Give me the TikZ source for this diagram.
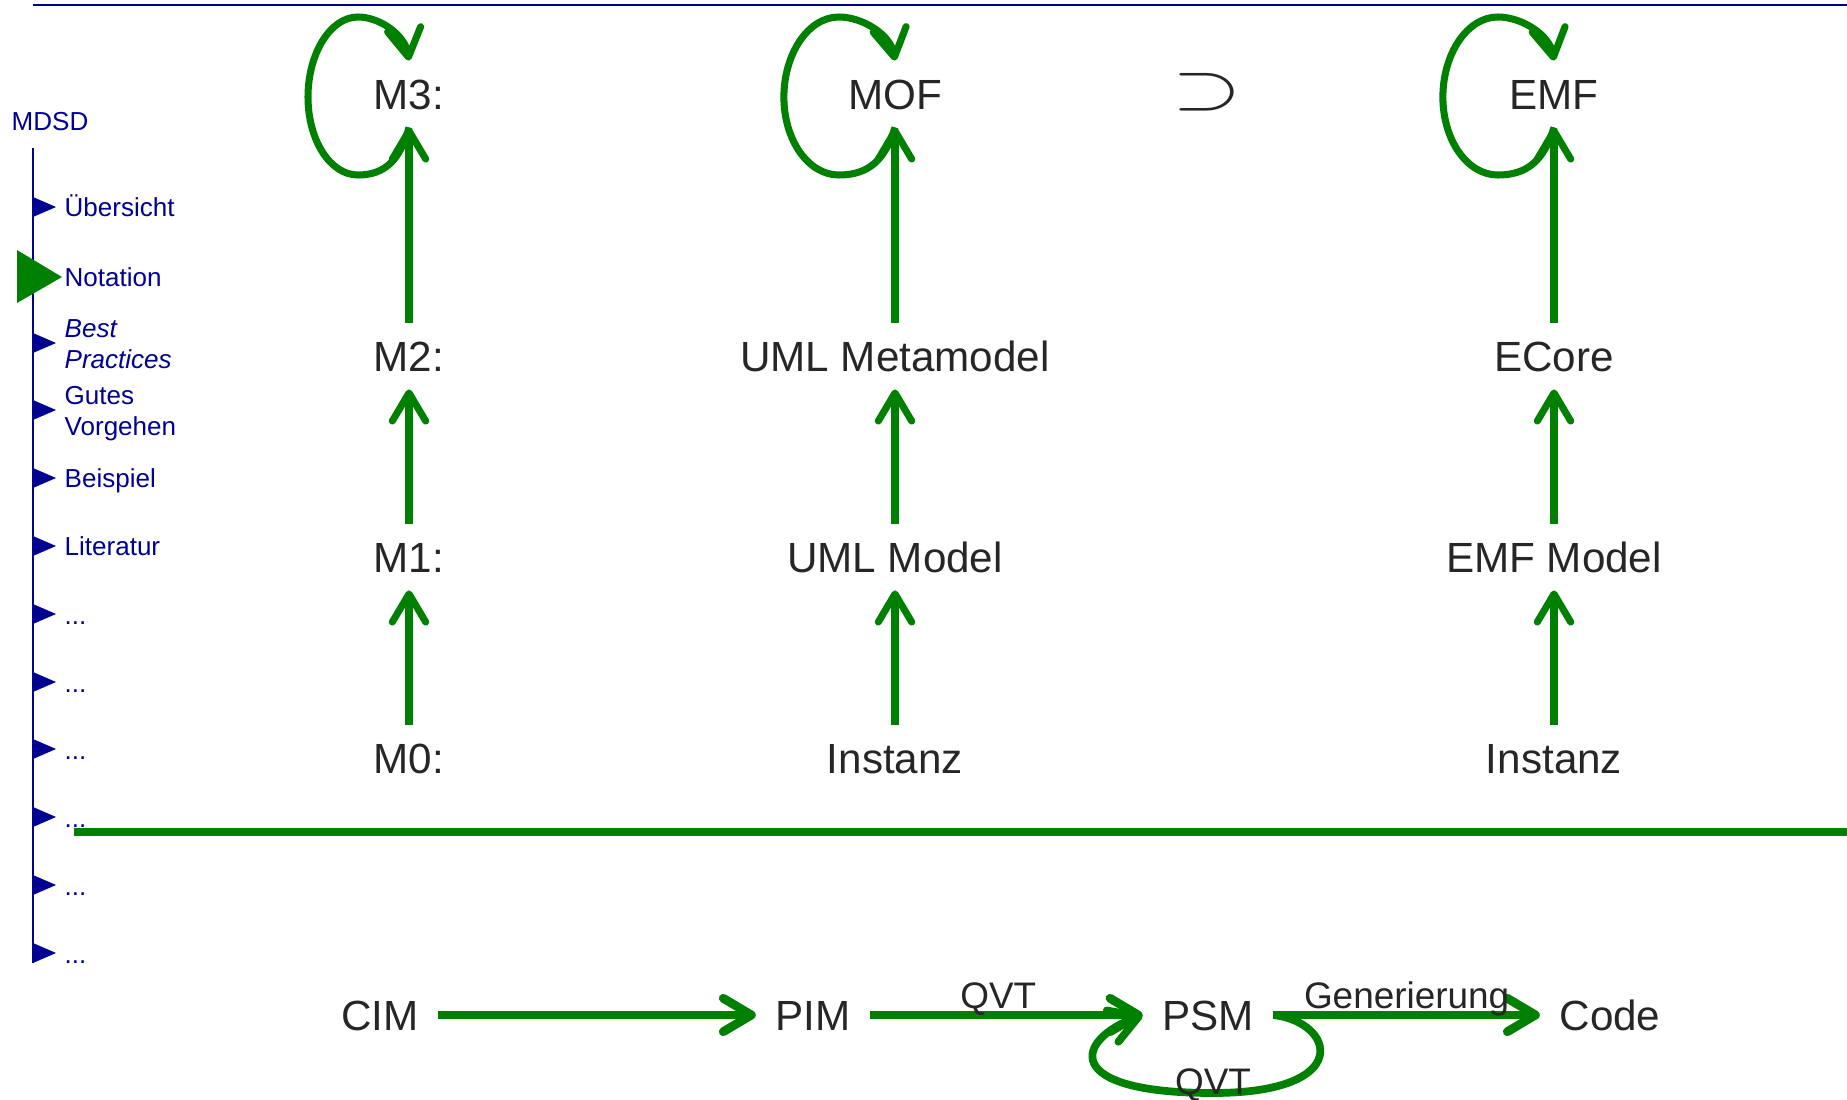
\documentclass[tikz,border=0pt]{standalone}
\usepackage{fontspec}
\usepackage{graphicx}
\setmainfont{Liberation Sans}
\usetikzlibrary{arrows.meta,calc}
\definecolor{gr}{RGB}{0,128,0}
\definecolor{navy}{RGB}{0,0,145}
\definecolor{txt}{RGB}{38,38,38}
\tikzset{
  mainnode/.style={font=\fontsize{12}{14}\selectfont, text=txt, text height=8.6pt, text depth=0pt, inner xsep=5.4pt, inner ysep=5pt},
  lbl/.style={font=\fontsize{10.5}{12}\selectfont, text=txt, text height=7.5pt, text depth=0pt, inner sep=0.6pt},
  side/.style={font=\fontsize{7.4}{8.8}\selectfont, text=navy, inner sep=0pt},
  gtip/.tip={Straight Barb[length=8pt,width=9.5pt,round]},
  uparrow/.style={draw=gr, line width=2pt, -gtip},
  flowarrow/.style={draw=gr, line width=2.5pt, -gtip},
}
\newcommand\mfloop[2]{%
  \draw[uparrow] (#1.south) .. controls ($(#1)+(#2*-9,66)$) and ($(#1)+(#2*-24,81)$) .. ($(#1)+(#2*-51,81)$)
    .. controls ($(#1)+(#2*-79,81)$) and ($(#1)+(#2*-101,46)$) .. ($(#1)+(#2*-101,3)$)
    .. controls ($(#1)+(#2*-101,-40)$) and ($(#1)+(#2*-79,-77)$) .. ($(#1)+(#2*-51,-77)$)
    .. controls ($(#1)+(#2*-29,-77)$) and ($(#1)+(#2*-4,-59)$) .. (#1.north);}
\begin{document}
\begin{tikzpicture}[x=0.01cm,y=-0.01cm]
\useasboundingbox (0,0) rectangle (1847,1100);
% sidebar
\draw[navy,line width=0.7pt] (33,5) -- (1847,5);
\node[side,anchor=base west] (mdsd) at (11,130) {MDSD};
\draw[navy,line width=0.7pt] (33,148) -- (33,963);
\foreach \c in {207,343,410,478,546,614,682,749,817,885,953}
  \fill[navy] (33,\c-10) -- (33,\c+10) -- (56,\c) -- cycle;
\fill[gr] (17,250) -- (17,303) -- (62,277) -- cycle;
\node[side,anchor=base west] (s1) at (64,216.5) {Übersicht};
\node[side,anchor=base west] (s2) at (64,286) {Notation};
\node[side,anchor=base west,align=left,font=\fontsize{7.4}{8.8}\selectfont\itshape] (s3) at (64,368) {Best\\Practices};
\node[side,anchor=base west,align=left] (s4) at (64,435) {Gutes\\Vorgehen};
\node[side,anchor=base west] (s5) at (64,487.5) {Beispiel};
\node[side,anchor=base west] (s6) at (64,555.5) {Literatur};
\node[side,anchor=base west] (s7) at (64,624) {...};
\node[side,anchor=base west] (s8) at (64,692) {...};
\node[side,anchor=base west] (s9) at (64,759) {...};
\node[side,anchor=base west] (s10) at (64,827) {...};
\node[side,anchor=base west] (s11) at (64,895) {...};
\node[side,anchor=base west] (s12) at (64,963) {...};
% meta levels
\node[mainnode] (m3) at (409,94) {M3:};
\node[mainnode] (m2) at (409,356) {M2:};
\node[mainnode] (m1) at (409,557) {M1:};
\node[mainnode] (m0) at (409,758) {M0:};
\node[mainnode] (mof) at (895,94) {MOF};
\node[mainnode] (umlmm) at (895,356) {UML Metamodel};
\node[mainnode] (umlm) at (895,557) {UML Model};
\node[mainnode] (inst1) at (895,758) {Instanz};
\node[mainnode] (emf) at (1554,94) {EMF};
\node[mainnode] (ecore) at (1554,356) {ECore};
\node[mainnode] (emfm) at (1554,557) {EMF Model};
\node[mainnode] (inst2) at (1554,758) {Instanz};
\node[text=txt,inner sep=0pt,anchor=base] (sup) at (1207,108.4) {\resizebox{0.69cm}{0.35cm}{$\supset$}};
\draw[uparrow] (m0) -- (m1);
\draw[uparrow] (m1) -- (m2);
\draw[uparrow] (m2) -- (m3);
\draw[uparrow] (inst1) -- (umlm);
\draw[uparrow] (umlm) -- (umlmm);
\draw[uparrow] (umlmm) -- (mof);
\draw[uparrow] (inst2) -- (emfm);
\draw[uparrow] (emfm) -- (ecore);
\draw[uparrow] (ecore) -- (emf);
\mfloop{m3}{1}
\mfloop{mof}{1.1}
\mfloop{emf}{1.1}
% separator
\draw[gr,line width=2.2pt] (74,832) -- (1847,832);
% MDA chain
\node[mainnode] (cim) at (380,1015) {CIM};
\node[mainnode] (pim) at (813,1015) {PIM};
\node[mainnode] (psm) at (1208,1015) {PSM};
\node[mainnode] (code) at (1610,1015) {Code};
\draw[flowarrow] (cim) -- (pim);
\draw[flowarrow] (pim) -- node[lbl,above,pos=0.47] (q1) {QVT} (psm);
\draw[flowarrow] (psm) -- node[lbl,above] (gen) {Generierung} (code);
\draw[draw=gr,line width=2.2pt,-gtip] (psm.east) .. controls (1335,1022) and (1355,1093) .. (1213,1093)
  node[lbl,above,inner sep=0pt,yshift=-1.5pt] (q2) {QVT}
  .. controls (1060,1093) and (1075,1040) .. (psm.west);
\end{tikzpicture}
\end{document}
